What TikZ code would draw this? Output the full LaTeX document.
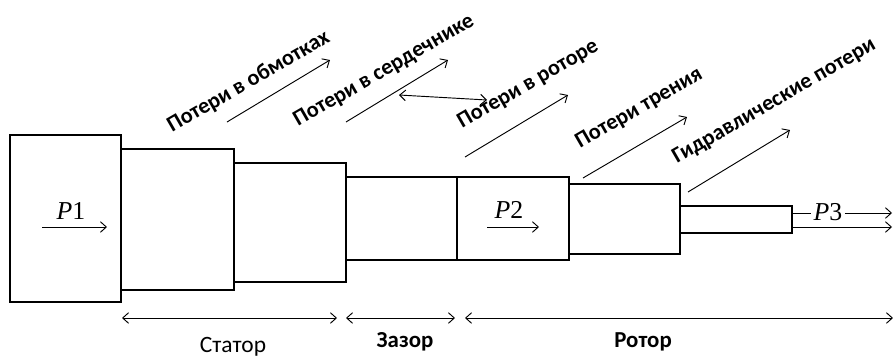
\documentclass[tikz,border=0pt]{standalone}
\usepackage{fontspec}
\setmainfont{Carlito}
\newfontfamily\timesfont{Liberation Serif}
\usetikzlibrary{arrows.meta}
\begin{document}
\begin{tikzpicture}[x=0.03cm,y=-0.03cm,
  thickbox/.style={line width=2.1pt},
  thinbox/.style={line width=1.3pt},
  tip/.tip={Straight Barb[length=5pt,width=9pt,line width=0.8pt]},
  flow/.style={line width=0.8pt,-tip},
  span/.style={line width=0.8pt,tip-tip},
  loss/.style={font=\bfseries\fontsize{19}{22}\selectfont, rotate=30, anchor=base west, inner sep=0},
  part/.style={font=\fontsize{20}{24}\selectfont, inner sep=0},
  boldpart/.style={part, font=\bfseries\fontsize{19.5}{24}\selectfont},
  pow/.style={font=\timesfont\fontsize{22}{26}\selectfont, inner sep=2pt}]
\useasboundingbox (0,0) rectangle (893,356);

% stages of the power flow: stator, gap, rotor, shaft
\draw[thickbox] (10,135) rectangle (121,302);
\draw[thickbox] (121,149) rectangle (234,290);
\draw[thinbox] (234,163) rectangle (346,282);
\draw[thinbox] (346,177) rectangle (457,260);
\draw[thinbox] (457,177) rectangle (569,260);
\draw[thinbox] (569,184) rectangle (680,254);
\draw[thinbox] (680,206) rectangle (792,233);

% input power
\node[pow] (p1) at (71,211) {\textit{P}1};
\coordinate (p1s) at (42,227);
\coordinate (p1e) at (107,227);
\draw[flow] (p1s) -- (p1e);

% air-gap power
\node[pow] (p2) at (509,210) {\textit{P}2};
\coordinate (p2s) at (487,227);
\coordinate (p2e) at (539,227);
\draw[flow] (p2s) -- (p2e);

% output power on the shaft
\node[pow] (p3) at (828,212) {\textit{P}3};
\coordinate (shT) at (792,213);
\coordinate (shB) at (792,227);
\coordinate (outT) at (892,213);
\coordinate (outB) at (892,227);
\draw[line width=0.8pt] (shT) -- (shT -| p3.west);
\draw[flow] (shT -| p3.east) -- (outT);
\draw[flow] (shB) -- (outB);

% losses leaving the flow
\node[loss] (l1) at (172,133) {Потери в обмотках};
\coordinate (a1s) at (227,122);
\coordinate (a1e) at (330,60);
\draw[flow] (a1s) -- (a1e);

\node[loss] (l2) at (298,127) {Потери в сердечнике};
\coordinate (a2s) at (346,122);
\coordinate (a2e) at (448,60);
\draw[flow] (a2s) -- (a2e);

\coordinate (dbs) at (399,95);
\coordinate (dbe) at (487,100);
\draw[span] (dbs) -- (dbe);

\node[loss] (l3) at (462,129) {Потери в роторе};
\coordinate (a3s) at (465,157);
\coordinate (a3e) at (568,95);
\draw[flow] (a3s) -- (a3e);

\node[loss] (l4) at (580,149) {Потери трения};
\coordinate (a4s) at (583,178);
\coordinate (a4e) at (687,117);
\draw[flow] (a4s) -- (a4e);

\node[loss] (l5) at (677,164) {Гидравлические потери};
\coordinate (a5s) at (688,192);
\coordinate (a5e) at (790,130);
\draw[flow] (a5s) -- (a5e);

% machine parts
\coordinate (stL) at (122,318);
\coordinate (stR) at (337,318);
\coordinate (gpL) at (346,318);
\coordinate (gpR) at (455,318);
\coordinate (rtL) at (465,318);
\coordinate (rtR) at (893,318);
\draw[span] (stL) -- (stR);
\draw[span] (gpL) -- (gpR);
\draw[span] (rtL) -- (rtR);
\node[part] (stator) at (233,347) {Статор};
\node[boldpart] (gap) at (405,342) {Зазор};
\node[boldpart] (rotor) at (643,342) {Ротор};
\end{tikzpicture}
\end{document}
